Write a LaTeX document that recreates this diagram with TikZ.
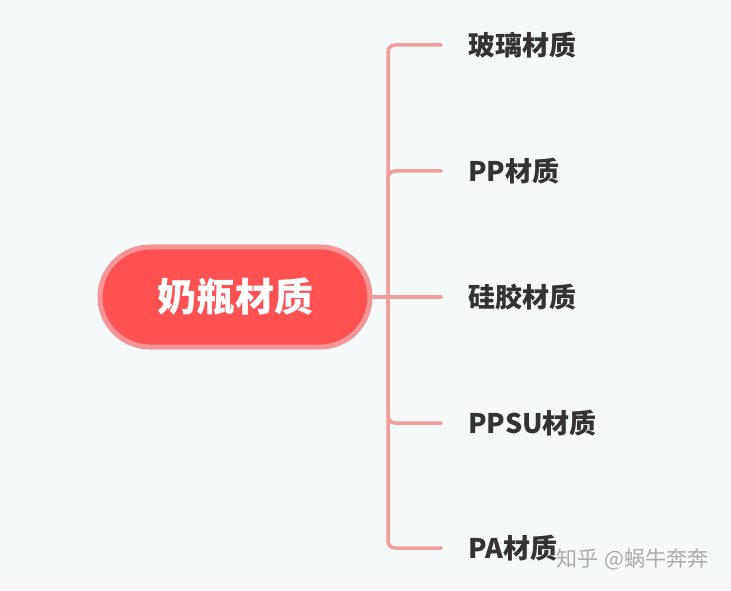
\documentclass[tikz,border=0pt]{standalone}
\usepackage{fontspec}
\newfontfamily\cjk{Noto Sans CJK SC}
\definecolor{bgcol}{HTML}{F5F9F9}
\definecolor{rootfill}{HTML}{FF5052}
\definecolor{rootedge}{HTML}{F59595}
\definecolor{linecol}{HTML}{F39C9C}
\definecolor{textcol}{HTML}{333333}
\tikzset{
  rootbox/.style={draw=rootedge, line width=5pt, fill=rootfill, rounded corners=50pt,
    minimum width=270pt, minimum height=100pt, text=white, font=\cjk\bfseries\fontsize{39}{42}\selectfont},
  leaf/.style={anchor=west, inner sep=0pt, text=textcol, font=\cjk\bfseries\fontsize{27}{30}\selectfont},
  branch/.style={draw=linecol, line width=3.5pt, rounded corners=7pt, line cap=round}
}
\begin{document}
\begin{tikzpicture}[x=1pt,y=1pt]
\fill[bgcol] (0,0) rectangle (731,590);
\useasboundingbox (0,0) rectangle (731,590);
% branches first, root on top
\node[leaf] (glass) at (468,545) {玻璃材质};
\node[leaf] (pp) at (468,419) {PP材质};
\node[leaf] (silicone) at (468,293) {硅胶材质};
\node[leaf] (ppsu) at (468,167) {PPSU材质};
\node[leaf] (pa) at (468,42) {PA材质};
\coordinate (fork) at (388,293);
\foreach \c in {glass,pp,ppsu,pa}
  \draw[branch] (fork) |- ([xshift=-27pt]\c.west);
\draw[branch] (370,293) -- ([xshift=-27pt]silicone.west);
\node[rootbox] (root) at (235,293) {奶瓶材质};
\node[anchor=west, inner sep=0pt, text=black!33, font=\cjk\fontsize{21}{24}\selectfont] (mark) at (556,31) {知乎\hspace{6pt}@蜗牛奔奔};
\end{tikzpicture}
\end{document}
